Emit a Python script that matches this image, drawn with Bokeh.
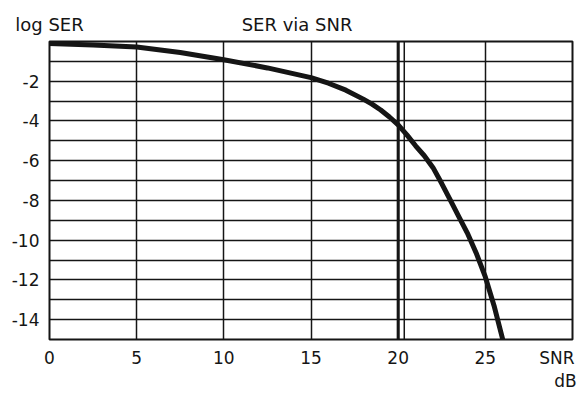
from bokeh.plotting import figure
from bokeh.models import FixedTicker, Span, LinearAxis
from bokeh.embed import file_html
from bokeh.resources import INLINE

# Curve: SNR (dB) vs log10(SER)
snr_db = [0, 2.5, 5, 7.5, 10, 12.5, 15, 16, 17, 18, 18.5, 19, 19.5, 20,
          20.5, 21, 21.5, 22, 22.5, 23, 23.5, 24, 24.5, 25, 25.5, 26.0]
log_ser = [-0.1, -0.17, -0.28, -0.55, -0.92, -1.33, -1.82, -2.1, -2.45, -2.9,
           -3.15, -3.45, -3.8, -4.2, -4.7, -5.25, -5.75, -6.35, -7.15, -8.0,
           -8.85, -9.7, -10.7, -11.85, -13.3, -15.0]

x_ticks = [0, 5, 10, 15, 20, 25]
x_tick_labels = ["0", "5", "10", "15", "20", "25"]
x_grid = [5, 10, 15, 20, 25]
y_ticks = [-2, -4, -6, -8, -10, -12, -14]
y_tick_labels = ["-2", "-4", "-6", "-8", "-10", "-12", "-14"]
y_grid = [-14, -13, -12, -11, -10, -9, -8, -7, -6, -5, -4, -3, -2, -1]
marker_snr = [20.0, 20.35]

title_text = "SER via SNR"
y_title = "log SER"
x_title_1 = "SNR"
x_title_2 = "dB"

# where the titles sit along the x scale (layout, not data)
TITLE_AT = 14.2
Y_TITLE_AT = 0.0
X_TITLE_1_AT = 29.1
X_TITLE_2_AT = 29.6

FONT = "DejaVu Sans"
INK = "#151515"

p = figure(width=582, height=393, x_range=(0, 30), y_range=(-15, 0),
           output_backend="svg", toolbar_location=None,
           min_border_left=49, min_border_right=10,
           min_border_top=41, min_border_bottom=51)
p.background_fill_color = "white"
p.border_fill_color = "white"
p.outline_line_color = INK
p.outline_line_width = 2


def style_axis(ax, size="17px", standoff=8, line_height=1.2):
    ax.axis_line_color = None
    ax.major_tick_line_color = None
    ax.minor_tick_line_color = None
    ax.major_tick_out = 0
    ax.major_tick_in = 0
    ax.minor_tick_out = 0
    ax.minor_tick_in = 0
    ax.major_label_text_font = FONT
    ax.major_label_text_font_size = size
    ax.major_label_text_color = INK
    ax.major_label_text_line_height = line_height
    ax.major_label_standoff = standoff


style_axis(p.xaxis[0], standoff=8, line_height=0.9)
style_axis(p.yaxis[0], standoff=10)

xt = x_ticks + [X_TITLE_1_AT]
xl = x_tick_labels + [x_title_1]
p.xaxis.ticker = FixedTicker(ticks=xt)
p.xaxis.major_label_overrides = {t: l for t, l in zip(xt, xl)}

p.yaxis.ticker = FixedTicker(ticks=y_ticks)
p.yaxis.major_label_overrides = {t: l for t, l in zip(y_ticks, y_tick_labels)}

# second bottom row: "dB"
unit_axis = LinearAxis(ticker=FixedTicker(ticks=[X_TITLE_2_AT]),
                       major_label_overrides={X_TITLE_2_AT: x_title_2})
style_axis(unit_axis, standoff=0, line_height=0.9)
p.add_layout(unit_axis, "below")

# top row: "log SER" and the title
top_axis = LinearAxis(ticker=FixedTicker(ticks=[Y_TITLE_AT, TITLE_AT]),
                      major_label_overrides={Y_TITLE_AT: y_title,
                                             TITLE_AT: title_text})
style_axis(top_axis, size="18px", standoff=7)
p.add_layout(top_axis, "above")

p.xgrid.ticker = FixedTicker(ticks=x_grid)
p.ygrid.ticker = FixedTicker(ticks=y_grid)
for g in (p.xgrid[0], p.ygrid[0]):
    g.grid_line_color = INK
    g.grid_line_width = 1.5
    g.grid_line_alpha = 1.0

p.add_layout(Span(location=marker_snr[0], dimension="height",
                  line_color=INK, line_width=3))
p.add_layout(Span(location=marker_snr[1], dimension="height",
                  line_color=INK, line_width=1.5))

p.line(snr_db, log_ser, line_width=5, line_color=INK,
       line_join="round", line_cap="round")

open("out.html", "w").write(file_html(p, INLINE))
